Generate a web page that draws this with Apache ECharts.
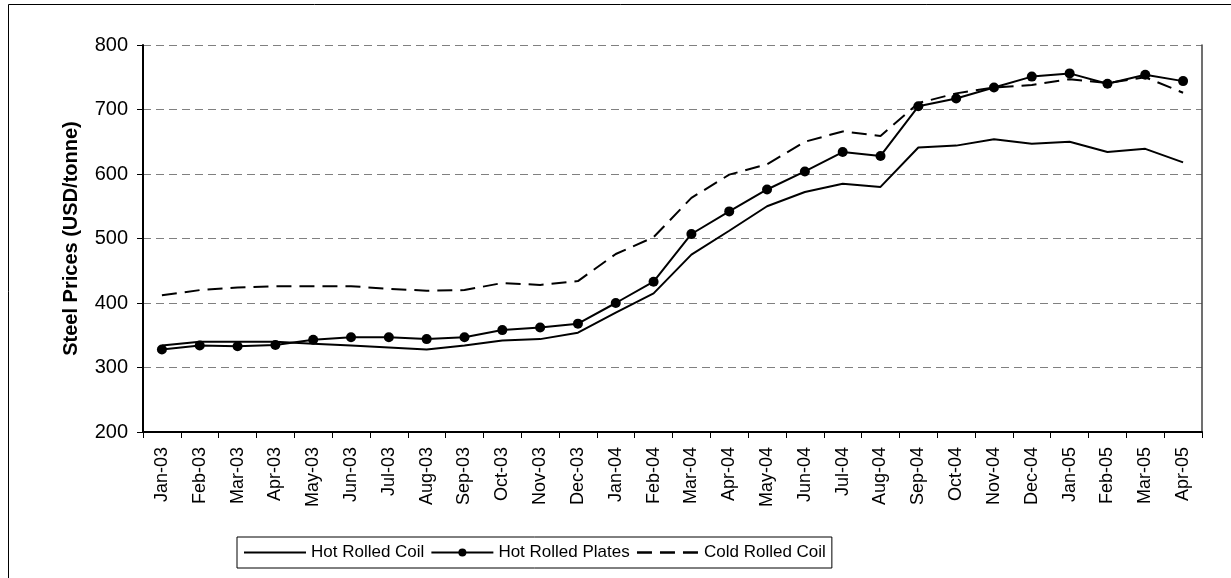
<!DOCTYPE html>
<html><head><meta charset="utf-8">
<script src="https://cdn.jsdelivr.net/npm/echarts@6/dist/echarts.min.js"></script>
<style>html,body{margin:0;padding:0;background:#fff}#c{width:1231px;height:578px}</style>
</head><body><div id="c"></div>
<script>
const categories = ["Jan-03","Feb-03","Mar-03","Apr-03","May-03","Jun-03","Jul-03","Aug-03","Sep-03","Oct-03","Nov-03","Dec-03","Jan-04","Feb-04","Mar-04","Apr-04","May-04","Jun-04","Jul-04","Aug-04","Sep-04","Oct-04","Nov-04","Dec-04","Jan-05","Feb-05","Mar-05","Apr-05"];
const hotRolledCoil = [334,340,340,340,337,334,331,328,334,342,344,354,385,415,475,512,550,572,585,580,641,644,654,647,650,634,639,618];
const hotRolledPlates = [328,334,333,335,343,347,347,344,347,358,362,368,400,433,507,542,576,604,634,628,705,717,734,751,756,740,754,744];
const coldRolledCoil = [412,420,424,426,426,426,422,419,420,431,428,434,476,502,563,599,615,650,666,659,710,725,734,738,747,741,750,726];
const yTicks = {min:200, max:800, interval:100};

const chart = echarts.init(document.getElementById('c'));
const font = '"Liberation Sans", Arial, sans-serif';
chart.setOption({
  animation:false,
  backgroundColor:'#fff',
  graphic:[{type:'rect',shape:{x:8.5,y:4.5,width:1230,height:580},style:{fill:'none',stroke:'#000',lineWidth:1}}],
  grid:{left:143,right:29,top:45,bottom:146,containLabel:false},
  xAxis:{type:'category',data:categories,boundaryGap:true,
    axisLine:{lineStyle:{color:'#000',width:2}},
    axisTick:{show:true,length:6,lineStyle:{color:'#000',width:1}},
    axisLabel:{rotate:90,color:'#000',fontFamily:font,fontSize:18,margin:15,interval:0},
    splitLine:{show:false}},
  yAxis:[{type:'value',min:yTicks.min,max:yTicks.max,interval:yTicks.interval,
    name:'Steel Prices (USD/tonne)',nameLocation:'middle',nameGap:62,nameRotate:90,
    nameTextStyle:{color:'#000',fontFamily:font,fontSize:20,fontWeight:'bold'},
    axisLine:{show:true,lineStyle:{color:'#000',width:2}},
    axisTick:{show:true,length:6,lineStyle:{color:'#000'}},
    axisLabel:{color:'#000',fontFamily:font,fontSize:20,margin:15},
    splitLine:{show:true,lineStyle:{color:'#808080',type:[8,5],width:1}}},
   {type:'value',min:yTicks.min,max:yTicks.max,interval:yTicks.interval,position:'right',
    axisLine:{show:true,lineStyle:{color:'#404040',width:1.5}},
    axisTick:{show:false},axisLabel:{show:false},splitLine:{show:false}}],
  legend:{bottom:10,left:237,itemWidth:62,itemHeight:10,itemGap:6,
    padding:[7,6,7,6],borderColor:'#000',borderWidth:1,
    textStyle:{color:'#000',fontFamily:font,fontSize:17},
    data:[{name:'Hot Rolled Coil',itemStyle:{opacity:0}},
          {name:'Hot Rolled Plates'},
          {name:'Cold Rolled Coil',itemStyle:{opacity:0},lineStyle:{type:[15,8],width:2.5}}]},
  series:[
    {name:'Hot Rolled Coil',type:'line',data:hotRolledCoil,symbol:'none',
      lineStyle:{color:'#000',width:2},itemStyle:{color:'#000'}},
    {name:'Hot Rolled Plates',type:'line',data:hotRolledPlates,symbol:'circle',symbolSize:10,
      lineStyle:{color:'#000',width:2},itemStyle:{color:'#000'}},
    {name:'Cold Rolled Coil',type:'line',data:coldRolledCoil,symbol:'none',
      lineStyle:{color:'#000',width:2,type:[15,8]},itemStyle:{color:'#000'}}
  ]
});
</script></body></html>
